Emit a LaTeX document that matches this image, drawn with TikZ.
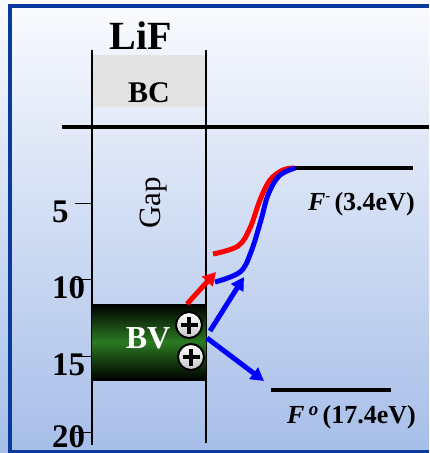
\documentclass[tikz,border=0pt]{standalone}
\usepackage{fontspec}
\setmainfont{Liberation Serif}
\usetikzlibrary{arrows.meta}
\definecolor{framebl}{HTML}{0A3A9A}
\definecolor{bgtop}{HTML}{FAFBFE}
\definecolor{bgbot}{HTML}{A6BEE8}
\definecolor{bcgray}{HTML}{E3E3E3}
\definecolor{bvgreen}{HTML}{2A7A22}
\begin{document}
\begin{tikzpicture}[x=1pt,y=-1pt,
  thinline/.style={line width=1.1pt,black},
  level/.style={line width=4pt,black},
  ticklab/.style={font=\fontsize{33}{33}\selectfont\bfseries,inner sep=0pt,anchor=base west},
  flab/.style={font=\fontsize{26}{26}\selectfont\bfseries,inner sep=0pt,anchor=base west},
  harrow/.style={line width=5pt,-{Triangle[length=13pt,width=14pt]}},
  hcurve/.style={line width=5pt},
  hole/.style={circle,draw=black,line width=2pt,minimum size=26pt,inner sep=0pt,top color=white,bottom color=gray!45}
]
\useasboundingbox (0,0) rectangle (429,453);
% background
\shade[top color=bgtop,bottom color=bgbot] (0,0) rectangle (429,453);
\fill[framebl] (8,4) rectangle (429,8);
\fill[framebl] (8,4) rectangle (12,453);
\fill[framebl] (8,450) rectangle (429,453);
% BC band
\fill[bcgray] (93,55) rectangle (205,107);
% columns
\coordinate (lt) at (92,50); \coordinate (lb) at (92,445);
\coordinate (rt) at (206,50); \coordinate (rb) at (206,443);
\draw[thinline] (lt) -- (lb);
\draw[thinline] (rt) -- (rb);
% zero line
\coordinate (z0) at (62,127); \coordinate (z1) at (429,127);
\draw[level] (z0) -- (z1);
% ticks
\foreach \yy/\lab/\bl in {203/5/222,279/10/298,356/15/375,432/20/447}{
  \node[ticklab] (t\lab) at (52,\bl) {\lab};
  \draw[line width=1pt] (75,\yy) -- (92,\yy);
}
% texts
\node[font=\fontsize{40}{40}\selectfont\bfseries,inner sep=0pt,anchor=base] (lif) at (141,49) {LiF};
\node[font=\fontsize{30}{30}\selectfont\bfseries,inner sep=0pt,anchor=base] (bc) at (149,102) {BC};
\node[font=\fontsize{31}{31}\selectfont,inner sep=0pt,rotate=90] (gap) at (154,203) {Gap};
% BV box
\shade[top color=black,bottom color=black,middle color=bvgreen] (92,304) rectangle (206,380);
\node[font=\fontsize{32}{32}\selectfont\bfseries,text=white,inner sep=0pt,anchor=base] (bv) at (148,348) {BV};
\node[hole] (h1) at (189,325) {};
\node[hole] (h2) at (191,357) {};
\foreach \h in {h1,h2}{
  \draw[line width=3.4pt] ([xshift=-8.5pt]\h.center) -- ([xshift=8.5pt]\h.center);
  \draw[line width=3.4pt] ([yshift=-8.5pt]\h.center) -- ([yshift=8.5pt]\h.center);
}
% levels
\coordinate (fm0) at (295,168); \coordinate (fm1) at (413,168);
\draw[level] (fm0) -- (fm1);
\coordinate (fo0) at (271,390); \coordinate (fo1) at (391,390);
\draw[level] (fo0) -- (fo1);
\node[flab] (fmlab) at (308,210) {\textit{F}\raisebox{10pt}{\fontsize{14}{14}\selectfont -}\,(3.4eV)};
\node[flab] (folab) at (287,423) {\textit{F\,}\raisebox{8pt}{\fontsize{19}{19}\selectfont\textit{o}}\,(17.4eV)};
% curves
\draw[hcurve,red] plot[smooth,tension=0.6] coordinates {(213,254) (238,246) (250,228) (260,200) (270,180) (283,170) (295,168)};
\draw[hcurve,blue] plot[smooth,tension=0.6] coordinates {(215,282) (240,272) (251,252) (261,220) (268,195) (279,176) (295,168)};
% arrows
\coordinate (ra0) at (187,304); \coordinate (ra1) at (216,272);
\draw[harrow,red] (ra0) -- (ra1);
\coordinate (ba0) at (210,331); \coordinate (ba1) at (244,277);
\draw[harrow,blue] (ba0) -- (ba1);
\coordinate (bb0) at (207,338); \coordinate (bb1) at (264,381);
\draw[harrow,blue] (bb0) -- (bb1);
\end{tikzpicture}
\end{document}
